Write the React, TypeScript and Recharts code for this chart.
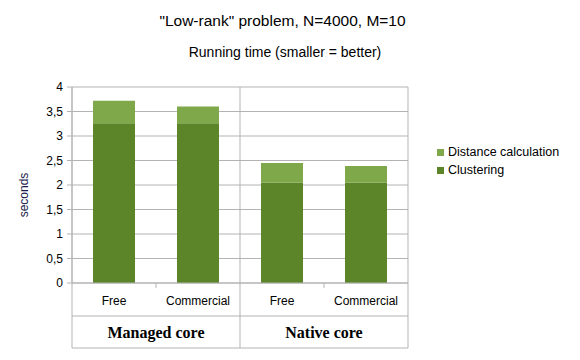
import React from 'react';
import { BarChart, Bar, XAxis, YAxis, CartesianGrid } from 'recharts';

const categories = ['Free', 'Commercial', 'Free', 'Commercial'];
const groups = ['Managed core', 'Native core'];
const clustering = [3.26, 3.26, 2.05, 2.05];
const distance = [0.46, 0.34, 0.4, 0.34];
const yTicks = [0, 0.5, 1, 1.5, 2, 2.5, 3, 3.5, 4];
const seriesNames = ['Clustering', 'Distance calculation'];

const W = 580;
const H = 360;
const M_LEFT = 72;
const M_RIGHT = 172;
const M_TOP = 87;
const PLOT_H = 196;
const PLOT_W = W - M_LEFT - M_RIGHT;
const GRID = '#b3b3b3';
const DARK = '#5b8528';
const LIGHT = '#7fa84b';
const COLORS = [DARK, LIGHT];
const SANS = '"Liberation Sans", Arial, sans-serif';
const SERIF = '"Liberation Serif", "Times New Roman", serif';

const data = categories.map((c, i) => ({
  key: c,
  group: groups[Math.floor(i / 2)],
  clustering: clustering[i],
  distance: distance[i],
}));

const FrameTick = (props: any) => {
  const { x, y, index, payload } = props;
  const band = PLOT_W / categories.length;
  const h = band / 2;
  const per = categories.length / groups.length;
  const els: any[] = [];
  els.push(
    <text key="l" x={x} y={y + 17.5} textAnchor="middle" dominantBaseline="central" fontSize={12} fontFamily={SANS} fill="#000">
      {payload.value}
    </text>
  );
  if (index % per === 0) {
    const gx = x + h * (per - 1);
    const right = x - h + band * per;
    els.push(<line key="v" x1={x - h} x2={x - h} y1={y} y2={y + 65} stroke={GRID} />);
    els.push(<line key="t" x1={gx} x2={gx} y1={y} y2={y + 5} stroke={GRID} />);
    els.push(<line key="h1" x1={x - h} x2={right} y1={y + 33} y2={y + 33} stroke={GRID} />);
    els.push(<line key="h2" x1={x - h} x2={right} y1={y + 65} y2={y + 65} stroke={GRID} />);
    els.push(
      <text key="g" x={gx} y={y + 49} textAnchor="middle" dominantBaseline="central" fontSize={16} fontWeight="bold" fontFamily={SERIF} fill="#000">
        {groups[index / per]}
      </text>
    );
  }
  if (index === categories.length - 1) {
    els.push(<line key="r" x1={x + h} x2={x + h} y1={y} y2={y + 65} stroke={GRID} />);
  }
  return <g>{els}</g>;
};

const YLabel = (props: any) => {
  const { viewBox } = props;
  const cx = 24;
  const cy = viewBox.y + viewBox.height / 2 + 10;
  return (
    <text x={cx} y={cy} transform={`rotate(-90 ${cx} ${cy})`} textAnchor="middle" dominantBaseline="central" fontSize={12} fontFamily={SANS} fill="#1a1a4a">
      seconds
    </text>
  );
};

export default function App() {
  return (
    <div style={{ position: 'absolute', left: 0, top: 0, width: W, height: H, background: '#fff' }}>
      <div style={{ position: 'absolute', left: 0, top: 11, width: 565, textAlign: 'center', fontFamily: SANS, fontSize: 15.5, lineHeight: '20px', color: '#000' }}>
        "Low-rank" problem, N=4000, M=10
      </div>
      <div style={{ position: 'absolute', left: 0, top: 43, width: 570, textAlign: 'center', fontFamily: SANS, fontSize: 14, lineHeight: '18px', color: '#000' }}>
        Running time (smaller = better)
      </div>
      <div style={{ position: 'absolute', left: 437, top: 143, width: 143, fontFamily: SANS, fontSize: 12.5, color: '#000', zIndex: 2 }}>
        {seriesNames.map((n, i) => ({ n, c: COLORS[i] })).reverse().map((it) => (
          <div key={it.n} style={{ display: 'flex', alignItems: 'center', height: 18, whiteSpace: 'nowrap' }}>
            <span style={{ display: 'inline-block', width: 7, height: 7, background: it.c, marginRight: 4 }} />
            <span>{it.n}</span>
          </div>
        ))}
      </div>
      <BarChart
        width={W}
        height={H}
        data={data}
        margin={{ top: M_TOP, right: M_RIGHT, bottom: 0, left: 0 }}
      >
        <CartesianGrid
          stroke={GRID}
          verticalCoordinatesGenerator={() => groups.map((_, i) => M_LEFT + (i * PLOT_W) / groups.length).concat([M_LEFT + PLOT_W])}
        />
        <XAxis
          dataKey="key"
          interval={0}
          height={H - M_TOP - PLOT_H}
          tickLine={false}
          tickSize={0}
          tickMargin={0}
          axisLine={{ stroke: GRID }}
          tick={<FrameTick />}
        />
        <YAxis
          width={M_LEFT}
          domain={[0, 4]}
          ticks={yTicks}
          interval={0}
          tickFormatter={(v: number) => String(v).replace('.', ',')}
          tick={{ fontSize: 12, fill: '#000', fontFamily: SANS }}
          tickSize={5}
          tickMargin={4}
          axisLine={{ stroke: GRID }}
          tickLine={{ stroke: GRID }}
          label={<YLabel />}
        />
        <Bar dataKey="clustering" name={seriesNames[0]} stackId="a" fill={DARK} barSize={42} isAnimationActive={false} />
        <Bar dataKey="distance" name={seriesNames[1]} stackId="a" fill={LIGHT} barSize={42} isAnimationActive={false} />
      </BarChart>
    </div>
  );
}
